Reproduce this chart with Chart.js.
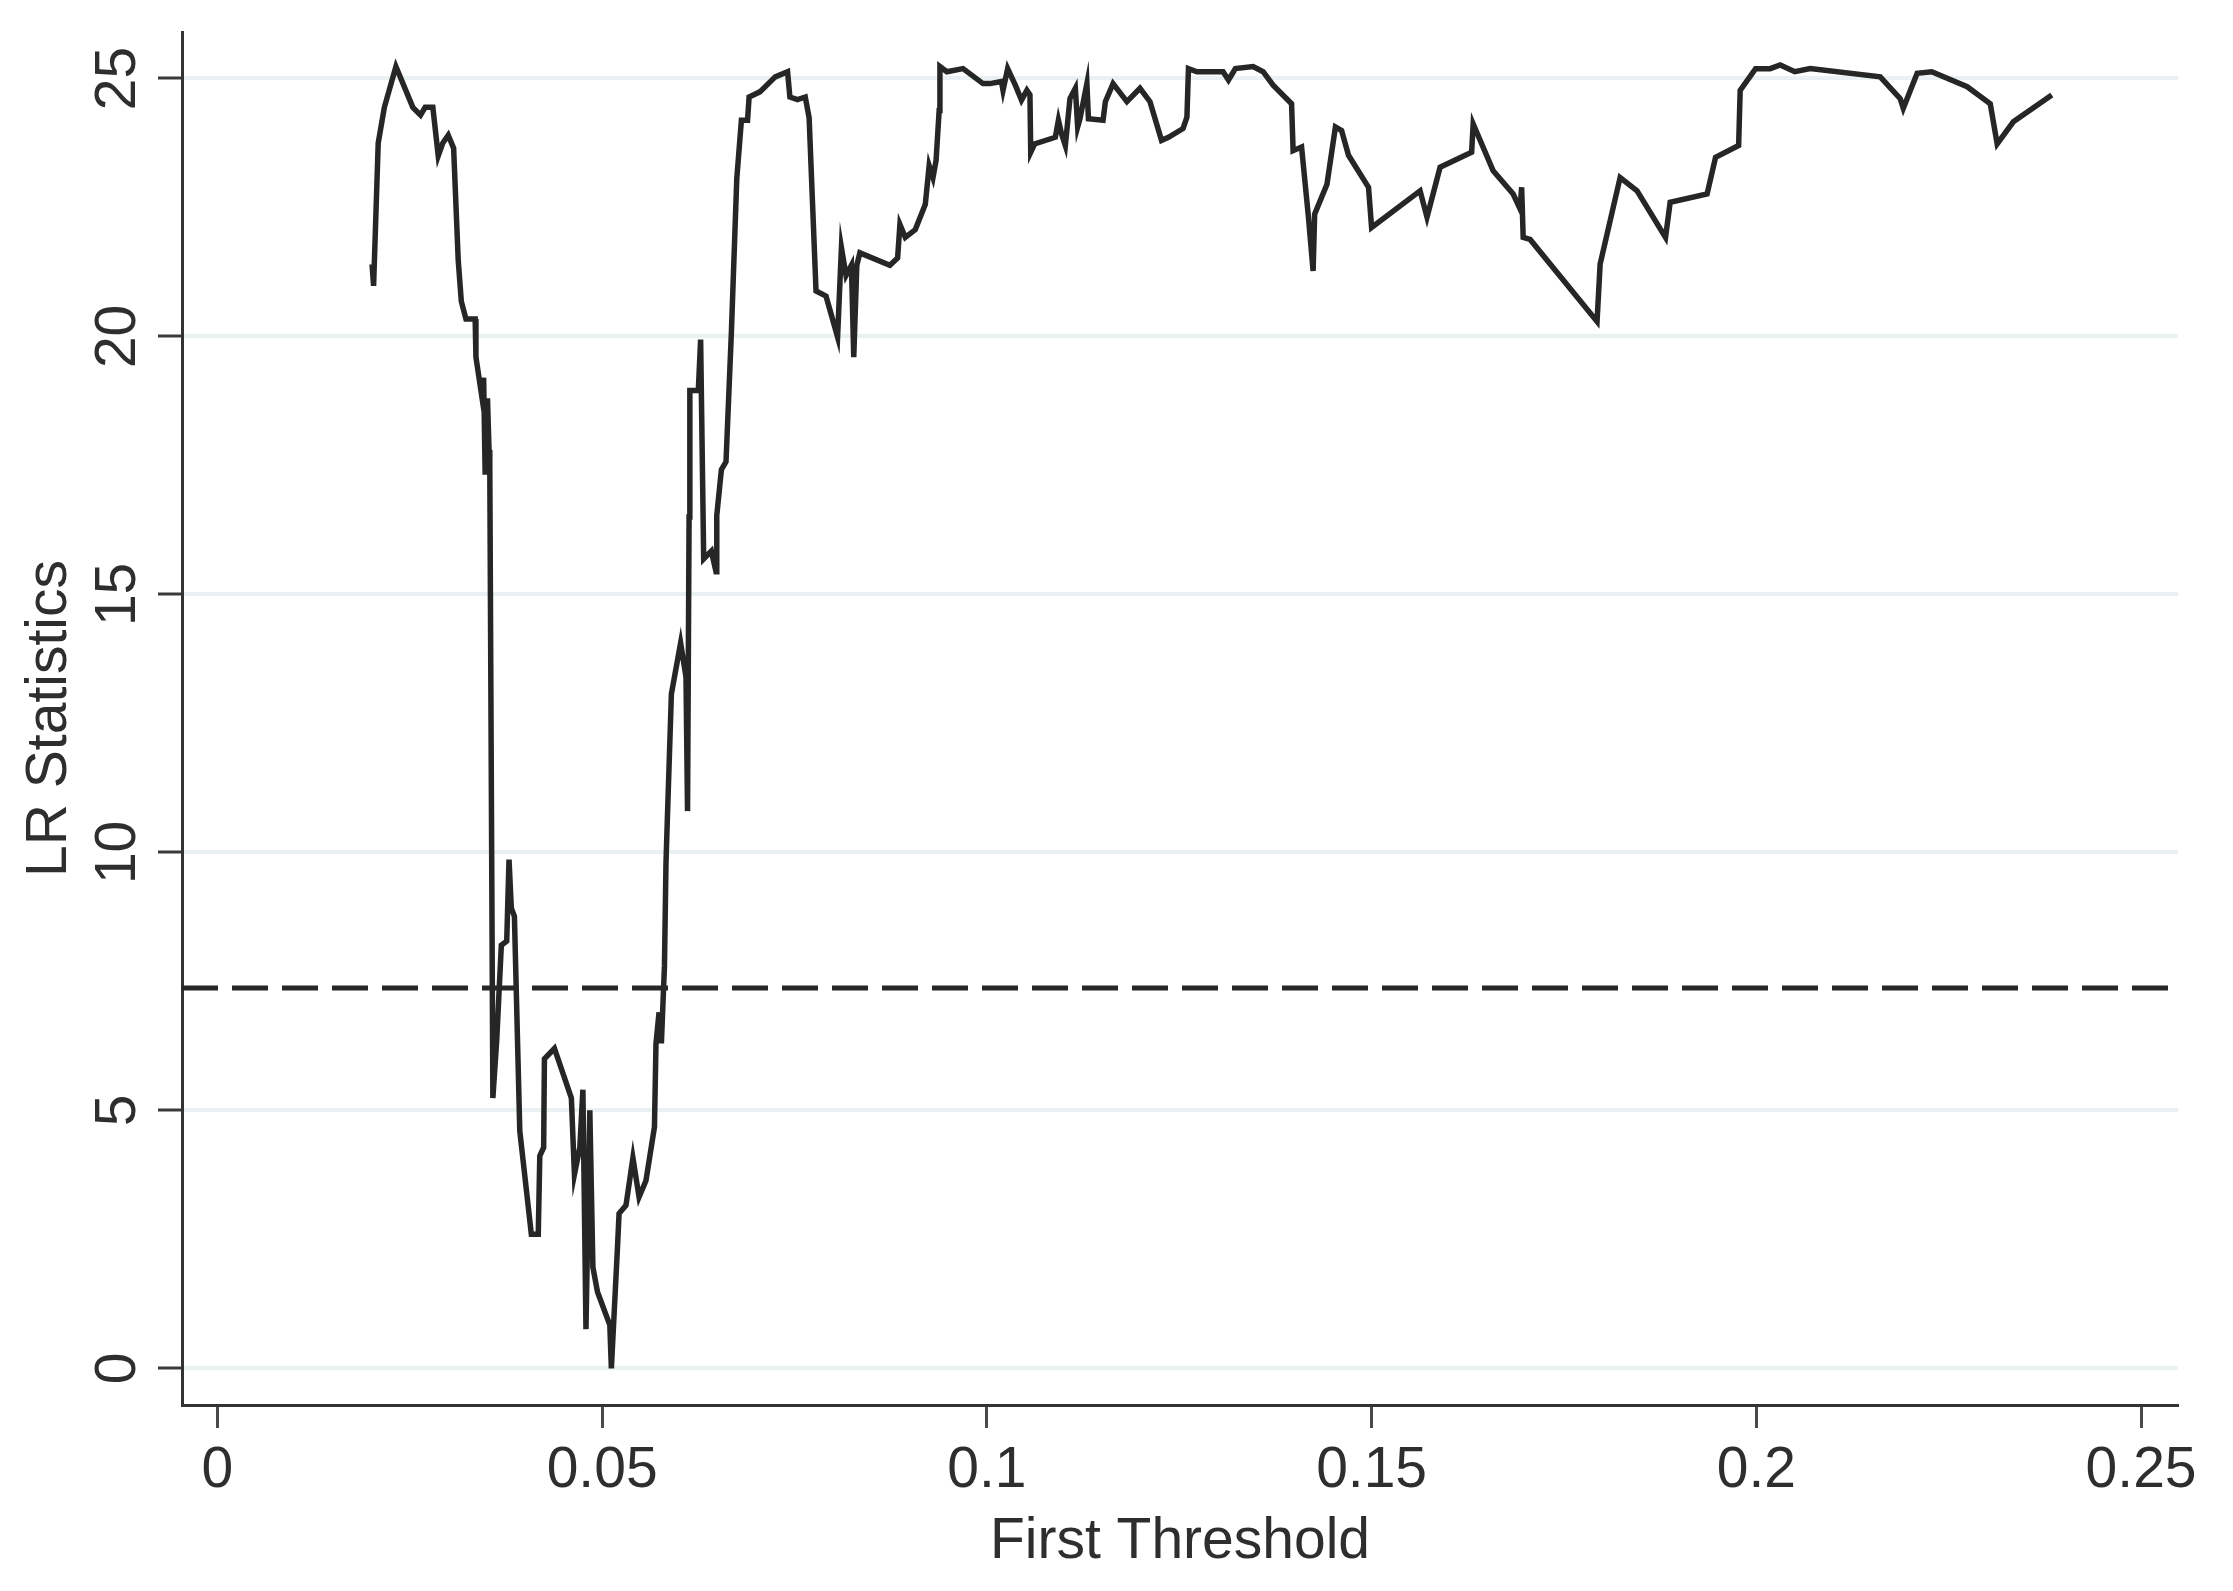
<!DOCTYPE html>
<html>
<head>
<meta charset="utf-8">
<title>LR Statistics - First Threshold</title>
<script src="https://cdn.jsdelivr.net/npm/chart.js@4.4.1/dist/chart.umd.min.js"></script>
<style>
    html, body { margin: 0; padding: 0; background: #ffffff; }
    canvas { display: block; }
</style>
</head>
<body>
<canvas id="lrGraph" width="2233" height="1591"></canvas>
<script>
// threshold grid (x) and LR statistic (y)
const threshold = [
    0.0201, 0.0203, 0.0209, 0.0217, 0.0232, 0.0254, 0.0264, 0.0270, 0.0280, 0.0287,
    0.0293, 0.0300, 0.0307, 0.0313, 0.0317, 0.0323, 0.0335, 0.0336, 0.0343, 0.0346,
    0.0348, 0.0351, 0.0353, 0.0354, 0.0358, 0.0363, 0.0369, 0.0376, 0.0379, 0.0382,
    0.0386, 0.0393, 0.0408, 0.0417, 0.0419, 0.0424, 0.0425, 0.0438, 0.0449, 0.0460,
    0.0464, 0.0471, 0.0475, 0.0479, 0.0484, 0.0488, 0.0494, 0.0510, 0.0512, 0.0520,
    0.0522, 0.0531, 0.0540, 0.0548, 0.0557, 0.0568, 0.0570, 0.0574, 0.0577, 0.0581,
    0.0583, 0.0585, 0.0589, 0.0590, 0.0602, 0.0609, 0.0611, 0.0613, 0.0614, 0.0625,
    0.0628, 0.0632, 0.0642, 0.0648, 0.0649, 0.0655, 0.0661, 0.0668, 0.0675, 0.0681,
    0.0689, 0.0691, 0.0705, 0.0725, 0.0741, 0.0744, 0.0754, 0.0764, 0.0769, 0.0778,
    0.0791, 0.0806, 0.0811, 0.0817, 0.0824, 0.0827, 0.0831, 0.0835, 0.0874, 0.0884,
    0.0887, 0.0894, 0.0907, 0.0920, 0.0925, 0.0930, 0.0934, 0.0938, 0.0939, 0.0948,
    0.0969, 0.0995, 0.1004, 0.1019, 0.1021, 0.1027, 0.1037, 0.1045, 0.1052, 0.1056,
    0.1057, 0.1062, 0.1089, 0.1093, 0.1097, 0.1102, 0.1108, 0.1115, 0.1118, 0.1121,
    0.1130, 0.1132, 0.1151, 0.1154, 0.1164, 0.1182, 0.1199, 0.1212, 0.1227, 0.1236,
    0.1255, 0.1260, 0.1262, 0.1273, 0.1307, 0.1314, 0.1323, 0.1346, 0.1359, 0.1372,
    0.1396, 0.1398, 0.1409, 0.1418, 0.1424, 0.1426, 0.1442, 0.1453, 0.1461, 0.1470,
    0.1496, 0.1500, 0.1563, 0.1572, 0.1589, 0.1630, 0.1632, 0.1658, 0.1684, 0.1693,
    0.1695, 0.1697, 0.1706, 0.1793, 0.1797, 0.1823, 0.1845, 0.1882, 0.1888, 0.1936,
    0.1947, 0.1977, 0.1979, 0.1999, 0.2018, 0.2031, 0.2050, 0.2070, 0.2161, 0.2187,
    0.2191, 0.2209, 0.2228, 0.2274, 0.2304, 0.2313, 0.2334, 0.2384
];
const lrStat = [
    21.40, 20.98, 23.75, 24.44, 25.23, 24.44, 24.29, 24.44, 24.44, 23.50,
    23.75, 23.90, 23.65, 21.47, 20.68, 20.34, 20.34, 19.60, 18.90, 19.20,
    17.32, 18.80, 17.80, 17.50, 5.24, 6.36, 8.20, 8.28, 9.86, 8.92,
    8.76, 4.60, 2.60, 2.60, 4.12, 4.28, 6.00, 6.20, 5.72, 5.24,
    3.76, 4.28, 5.40, 0.76, 5.00, 1.96, 1.48, 0.84, 0.00, 2.36,
    3.00, 3.16, 4.08, 3.32, 3.64, 4.68, 6.30, 6.90, 6.30, 7.80,
    9.80, 10.76, 12.60, 13.07, 14.06, 13.40, 10.80, 16.50, 18.95, 18.95,
    19.94, 15.69, 15.84, 15.44, 16.53, 17.42, 17.57, 20.09, 23.06, 24.19,
    24.19, 24.64, 24.74, 25.03, 25.13, 24.64, 24.59, 24.64, 24.24, 20.88,
    20.78, 19.99, 21.72, 21.18, 21.38, 19.60, 21.38, 21.62, 21.38, 21.52,
    22.17, 21.92, 22.07, 22.56, 23.31, 23.08, 23.41, 24.38, 25.23, 25.13,
    25.19, 24.90, 24.90, 24.94, 24.77, 25.19, 24.87, 24.58, 24.77, 24.68,
    23.57, 23.73, 23.86, 24.19, 23.93, 23.70, 24.61, 24.81, 24.06, 24.22,
    24.90, 24.22, 24.19, 24.55, 24.90, 24.55, 24.81, 24.55, 23.80, 23.86,
    24.03, 24.25, 25.19, 25.13, 25.13, 24.97, 25.19, 25.23, 25.13, 24.87,
    24.51, 23.60, 23.67, 22.30, 21.27, 22.37, 22.95, 24.06, 23.99, 23.51,
    22.89, 22.11, 22.82, 22.31, 23.28, 23.57, 24.12, 23.21, 22.76, 22.47,
    22.89, 21.92, 21.88, 20.29, 21.40, 23.08, 22.82, 21.92, 22.60, 22.76,
    23.47, 23.70, 24.77, 25.19, 25.19, 25.26, 25.13, 25.19, 25.03, 24.61,
    24.42, 25.10, 25.13, 24.84, 24.51, 23.73, 24.16, 24.68
];

// critical value (dashed reference line)
const critValue = 7.37;

// axis ranges and ticks
const xMin = -0.0046;
const xMax = 0.2548;
const yMin = -0.71;
const yMax = 25.9;
const xTicks = [0, 0.05, 0.1, 0.15, 0.2, 0.25];
const xTickLabels = ['0', '0.05', '0.1', '0.15', '0.2', '0.25'];
const yTicks = [0, 5, 10, 15, 20, 25];
const yTickLabels = ['0', '5', '10', '15', '20', '25'];

const FONT = '"Liberation Sans", Arial, Helvetica, sans-serif';
const TEXT_COLOR = '#2e2e2e';

// y tick labels are drawn rotated, like the Stata graph
const rotatedYLabels = {
    id: 'rotatedYLabels',
    afterDraw(chart) {
        const ctx = chart.ctx;
        const yScale = chart.scales.y;
        ctx.save();
        ctx.fillStyle = TEXT_COLOR;
        ctx.font = `57px ${FONT}`;
        ctx.textAlign = 'center';
        ctx.textBaseline = 'alphabetic';
        yTicks.forEach((v, i) => {
            const py = yScale.getPixelForValue(v);
            ctx.save();
            ctx.translate(135, py);
            ctx.rotate(-Math.PI / 2);
            ctx.fillText(yTickLabels[i], 0, 0);
            ctx.restore();
        });
        ctx.restore();
    }
};

function drawChart() {
    const ctx = document.getElementById('lrGraph').getContext('2d');
    const points = threshold.map((x, i) => ({ x: x, y: lrStat[i] }));

    new Chart(ctx, {
        type: 'scatter',
        data: {
            datasets: [
                {
                    label: 'LR',
                    data: points,
                    showLine: true,
                    borderColor: '#262626',
                    borderWidth: 5.5,
                    pointRadius: 0,
                    tension: 0
                },
                {
                    label: 'Critical value',
                    data: [{ x: xMin, y: critValue }, { x: xMax, y: critValue }],
                    showLine: true,
                    borderColor: '#262626',
                    borderWidth: 5,
                    borderDash: [36, 14],
                    pointRadius: 0
                }
            ]
        },
        options: {
            responsive: false,
            animation: false,
            devicePixelRatio: 1,
            layout: { padding: { top: 32, right: 55, left: 0, bottom: 0 } },
            plugins: {
                legend: { display: false },
                tooltip: { enabled: false }
            },
            scales: {
                x: {
                    type: 'linear',
                    min: xMin,
                    max: xMax,
                    afterBuildTicks: (scale) => { scale.ticks = xTicks.map(v => ({ value: v })); },
                    afterFit: (scale) => {
                        scale.height = 186;
                        scale.paddingLeft = 0;
                        scale.paddingRight = 0;
                    },
                    grid: {
                        drawOnChartArea: false,
                        drawTicks: true,
                        tickLength: 23,
                        tickColor: '#4a4a4a',
                        tickWidth: 3
                    },
                    border: { display: true, color: '#333333', width: 3 },
                    ticks: {
                        padding: 9,
                        maxRotation: 0,
                        color: TEXT_COLOR,
                        font: { family: FONT, size: 57 },
                        callback: (value, index) => xTickLabels[index]
                    },
                    title: {
                        display: true,
                        text: 'First Threshold',
                        color: TEXT_COLOR,
                        font: { family: FONT, size: 57 },
                        padding: { top: 0, bottom: 15 }
                    }
                },
                y: {
                    type: 'linear',
                    min: yMin,
                    max: yMax,
                    afterBuildTicks: (scale) => { scale.ticks = yTicks.map(v => ({ value: v })); },
                    afterFit: (scale) => {
                        scale.width = 182;
                        scale.paddingTop = 0;
                        scale.paddingBottom = 0;
                    },
                    grid: {
                        color: '#e9f1f3',
                        lineWidth: 4,
                        drawTicks: true,
                        tickLength: 24,
                        tickColor: '#3a3a3a',
                        tickWidth: 3
                    },
                    border: { display: true, color: '#333333', width: 3 },
                    ticks: { display: false },
                    title: {
                        display: true,
                        text: 'LR Statistics',
                        color: TEXT_COLOR,
                        font: { family: FONT, size: 57 },
                        padding: { top: 16, bottom: 0 }
                    }
                }
            }
        },
        plugins: [rotatedYLabels]
    });
}

drawChart();
</script>
</body>
</html>
